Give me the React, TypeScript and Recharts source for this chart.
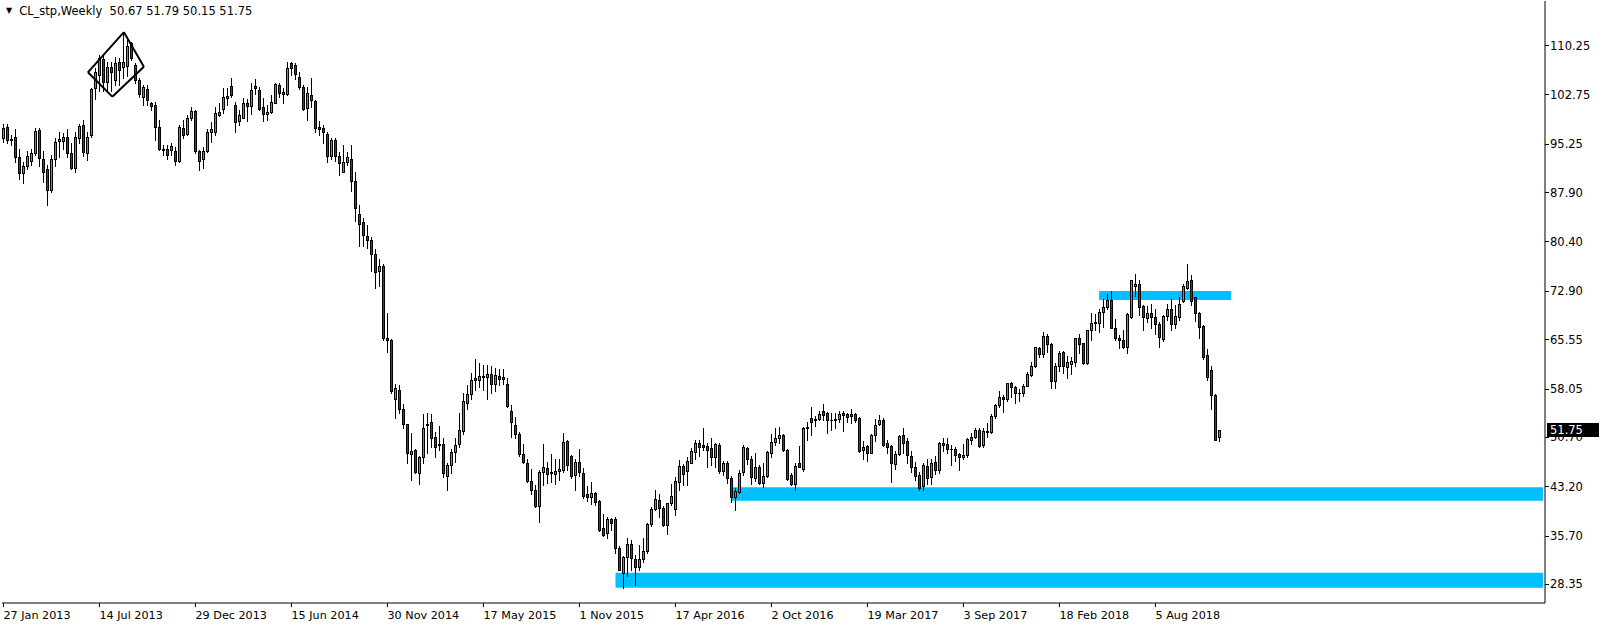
import React from 'react';
import { ComposedChart, Bar, XAxis, YAxis, ReferenceArea, ReferenceLine } from 'recharts';

// ---------- data ----------
const symbolName = 'CL_stp';
const timeframe = 'Weekly';

const dateLabels = ['27 Jan 2013', '14 Jul 2013', '29 Dec 2013', '15 Jun 2014', '30 Nov 2014', '17 May 2015', '1 Nov 2015', '17 Apr 2016', '2 Oct 2016', '19 Mar 2017', '3 Sep 2017', '18 Feb 2018', '5 Aug 2018'];
const labelBars = [0, 24, 48, 72, 96, 120, 144, 168, 192, 216, 240, 264, 288];
const priceTicks = [110.25, 102.75, 95.25, 87.9, 80.4, 72.9, 65.55, 58.05, 50.7, 43.2, 35.7, 28.35];

const opens = [
  96.07, 97.74, 95.95, 96.3, 93.2, 90.75, 91.8, 92.6, 93.8, 97.4,
  93.0, 91.4, 88.2, 92.9, 95.6, 95.7, 96.2, 93.9, 91.6, 96.1,
  98.1, 93.8, 96.6, 103.7, 105.7, 108.1, 104.6, 106.9, 104.9, 107.6,
  106.9, 107.0, 110.5, 107.2, 104.9, 102.4, 103.6, 101.5, 101.1, 97.8,
  94.5, 94.4, 94.3, 94.1, 92.6, 97.6, 96.8, 99.1, 100.2, 94.1,
  92.9, 94.1, 97.0, 97.1, 99.6, 100.6, 102.25, 104.0, 101.2, 98.7,
  99.2, 101.4, 101.0, 104.0, 103.4, 100.8, 99.7, 100.0, 101.5, 104.2,
  103.1, 102.8, 107.5, 107.2, 105.4, 103.8, 100.7, 102.7, 101.7, 97.8,
  97.6, 96.8, 93.4, 95.8, 93.4, 91.0, 92.4, 92.9, 89.6, 84.5,
  83.4, 81.2, 80.6, 78.5, 75.9, 76.7, 65.8, 65.5, 56.5, 57.8,
  55.0, 52.6, 48.1, 48.7, 45.2, 47.7, 52.5, 52.9, 50.7, 49.6,
  49.6, 44.75, 46.4, 48.45, 49.55, 51.6, 55.9, 57.2, 59.4, 59.35,
  59.8, 59.85, 60.25, 58.8, 59.95, 59.75, 58.8, 54.7, 52.5, 51.1,
  48.1, 46.8, 44.0, 42.7, 40.25, 45.3, 45.9, 45.4, 45.0, 45.5,
  45.7, 50.1, 47.8, 44.9, 46.9, 45.2, 42.0, 41.6, 42.2, 40.95,
  36.8, 36.05, 38.3, 38.3, 33.75, 30.05, 32.4, 34.5, 32.2, 30.95,
  32.1, 33.4, 37.45, 39.7, 41.1, 39.85, 37.3, 40.6, 39.7, 43.9,
  46.3, 45.55, 46.8, 48.45, 49.7, 49.45, 49.3, 48.95, 47.7, 49.5,
  45.55, 46.8, 44.4, 41.6, 42.4, 45.4, 48.95, 47.4, 44.4, 46.1,
  43.7, 44.75, 48.2, 49.9, 50.6, 50.95, 48.7, 44.9, 43.6, 46.7,
  45.8, 52.2, 53.5, 53.35, 53.4, 54.7, 54.4, 53.3, 53.35, 53.4,
  54.4, 54.2, 54.2, 54.2, 53.5, 48.7, 49.3, 48.3, 51.0, 52.65,
  53.3, 49.8, 49.3, 46.6, 48.1, 50.95, 50.1, 47.8, 46.2, 44.9,
  43.2, 46.3, 44.55, 46.9, 45.6, 49.8, 49.6, 48.9, 48.8, 48.1,
  47.6, 47.9, 50.3, 50.7, 51.7, 49.4, 51.6, 51.5, 53.9, 55.6,
  56.7, 56.5, 58.9, 58.3, 57.4, 57.3, 58.5, 60.1, 61.5, 64.15,
  63.3, 66.0, 64.8, 59.2, 61.4, 63.6, 61.35, 61.8, 62.1, 65.8,
  64.9, 61.9, 66.9, 68.2, 67.95, 69.7, 70.4, 71.5, 67.3, 65.8,
  65.5, 64.3, 68.9, 73.6, 74.0, 70.6, 68.7, 69.5, 68.95, 67.9,
  65.65, 69.0, 70.2, 67.85, 68.95, 71.4, 73.4, 74.5, 71.9, 69.6,
  67.5, 63.1, 60.85, 57.05, 50.67,
];

const highs = [
  98.2, 98.2, 96.6, 97.5, 94.45, 92.5, 94.1, 94.5, 97.6, 97.6,
  94.1, 92.0, 93.5, 96.1, 97.1, 96.9, 97.5, 95.3, 97.0, 98.3,
  98.9, 97.1, 103.7, 106.7, 108.8, 108.7, 107.7, 107.7, 108.5, 108.3,
  112.2, 111.0, 110.7, 107.5, 105.2, 104.2, 104.2, 101.6, 101.6, 98.8,
  95.0, 95.0, 95.3, 94.8, 98.1, 98.8, 99.6, 100.9, 100.4, 94.3,
  94.8, 97.5, 98.6, 100.9, 101.4, 103.7, 103.7, 105.2, 101.6, 100.4,
  102.2, 102.1, 104.4, 105.1, 103.9, 102.2, 101.1, 102.6, 104.4, 104.4,
  103.7, 107.6, 107.7, 107.5, 106.1, 104.1, 103.8, 105.2, 101.9, 98.7,
  98.1, 97.1, 96.1, 96.1, 94.0, 95.0, 94.0, 95.0, 90.9, 85.9,
  83.9, 82.9, 81.1, 79.3, 77.8, 77.0, 69.6, 65.6, 58.8, 58.6,
  55.7, 52.7, 51.3, 48.9, 47.8, 54.2, 54.3, 54.2, 51.5, 52.3,
  50.6, 46.7, 48.8, 50.5, 54.3, 57.3, 58.6, 60.35, 62.6, 61.9,
  61.6, 61.6, 61.5, 61.1, 61.0, 61.0, 59.6, 55.5, 53.8, 51.5,
  49.6, 47.3, 45.8, 43.4, 45.7, 49.6, 46.9, 48.1, 47.3, 47.4,
  51.3, 50.2, 47.9, 47.4, 48.85, 45.9, 43.2, 43.9, 42.4, 41.1,
  38.95, 38.6, 38.4, 38.6, 34.1, 32.6, 35.3, 35.0, 32.75, 34.3,
  35.3, 37.65, 40.0, 42.6, 42.0, 40.2, 40.7, 43.5, 44.55, 47.2,
  46.6, 47.6, 48.95, 50.3, 50.3, 52.0, 49.7, 50.6, 49.8, 49.7,
  47.1, 47.1, 44.75, 43.0, 45.65, 49.5, 49.1, 47.8, 48.2, 46.4,
  46.8, 48.6, 51.2, 52.1, 52.25, 51.2, 48.8, 45.25, 46.8, 49.3,
  52.15, 53.0, 55.3, 53.9, 54.7, 55.7, 54.5, 54.4, 54.3, 54.7,
  54.7, 54.4, 55.0, 54.4, 53.7, 50.1, 49.5, 51.1, 53.4, 54.0,
  53.5, 50.2, 49.5, 48.6, 51.0, 52.1, 50.5, 48.6, 46.9, 45.4,
  46.8, 47.4, 47.3, 47.8, 49.97, 50.5, 50.5, 49.5, 49.2, 48.3,
  49.6, 50.6, 51.3, 52.1, 52.1, 52.0, 52.8, 54.2, 55.7, 57.7,
  57.0, 58.9, 59.1, 58.5, 58.0, 58.7, 60.5, 62.1, 64.4, 64.4,
  66.7, 66.3, 65.0, 61.9, 63.8, 63.8, 63.0, 62.9, 65.8, 66.3,
  65.0, 67.0, 69.5, 69.4, 70.1, 71.7, 72.4, 72.9, 68.55, 66.2,
  66.9, 69.6, 74.6, 75.4, 74.6, 70.7, 70.6, 70.9, 70.2, 68.2,
  69.2, 70.9, 71.6, 70.7, 72.0, 74.0, 76.95, 75.3, 72.0, 69.7,
  67.7, 64.1, 61.4, 57.2, 51.79,
];

const lows = [
  95.45, 95.4, 95.05, 92.4, 89.9, 89.3, 91.4, 92.0, 93.5, 91.9,
  89.5, 85.9, 87.9, 91.8, 93.3, 94.5, 93.3, 91.4, 91.0, 95.3,
  93.4, 92.8, 96.3, 102.1, 103.2, 103.2, 103.4, 103.3, 104.2, 104.2,
  105.2, 105.6, 107.9, 104.4, 102.4, 101.1, 101.1, 100.4, 95.8, 94.3,
  93.5, 92.9, 93.5, 92.0, 92.4, 96.1, 96.6, 98.85, 93.9, 91.3,
  91.5, 94.0, 95.5, 96.6, 99.4, 99.9, 101.1, 102.4, 97.1, 98.1,
  99.1, 98.7, 99.7, 102.8, 100.4, 98.7, 98.8, 99.9, 101.4, 102.4,
  101.5, 102.7, 105.7, 105.1, 103.6, 100.4, 98.85, 100.9, 97.1, 96.5,
  95.3, 92.5, 93.0, 92.6, 90.5, 90.9, 92.0, 88.0, 83.5, 79.75,
  79.75, 79.35, 75.9, 73.3, 73.6, 65.5, 63.6, 57.3, 53.5, 54.3,
  52.0, 46.8, 44.1, 45.25, 43.6, 46.7, 48.2, 49.1, 47.7, 48.7,
  44.65, 42.6, 45.25, 46.9, 49.2, 51.2, 54.9, 56.4, 57.8, 58.3,
  57.8, 56.4, 57.3, 57.7, 58.6, 58.7, 55.3, 50.7, 50.5, 47.8,
  46.7, 43.9, 42.0, 40.0, 37.8, 43.4, 43.7, 43.9, 43.6, 44.1,
  45.4, 45.7, 44.4, 42.7, 44.75, 41.4, 41.0, 40.5, 40.3, 36.45,
  35.65, 35.3, 36.6, 33.0, 30.4, 27.7, 29.55, 30.4, 28.2, 30.45,
  31.7, 33.1, 37.15, 39.6, 38.6, 37.15, 35.9, 40.35, 38.8, 42.6,
  43.4, 43.4, 46.7, 47.3, 47.8, 48.7, 46.2, 46.4, 46.2, 45.25,
  44.9, 43.7, 40.85, 39.6, 42.1, 44.9, 46.6, 43.6, 44.0, 43.5,
  43.1, 44.55, 47.7, 49.5, 49.7, 48.6, 44.15, 43.4, 42.7, 46.1,
  45.55, 50.3, 51.0, 52.3, 53.2, 53.3, 51.3, 51.7, 52.1, 53.0,
  51.6, 53.0, 52.8, 53.0, 48.45, 47.3, 47.1, 48.2, 50.1, 52.5,
  49.3, 48.3, 43.9, 45.8, 47.9, 48.2, 46.8, 45.3, 44.1, 42.6,
  42.6, 43.6, 43.5, 45.06, 45.26, 48.5, 48.2, 46.4, 47.1, 45.7,
  47.3, 47.7, 49.6, 50.5, 49.2, 49.2, 50.7, 51.3, 53.6, 55.3,
  54.5, 56.1, 56.8, 55.8, 56.1, 56.9, 58.4, 60.0, 61.3, 62.8,
  62.9, 63.6, 58.1, 58.2, 60.75, 60.45, 59.7, 60.25, 61.4, 63.5,
  61.8, 61.8, 65.5, 66.9, 66.7, 67.4, 70.1, 67.2, 65.4, 64.15,
  64.15, 63.5, 68.7, 72.1, 69.2, 67.0, 68.2, 67.3, 66.3, 64.4,
  65.3, 68.45, 67.0, 67.3, 68.45, 71.2, 73.1, 70.7, 68.35, 65.7,
  62.5, 59.4, 54.9, 50.2, 50.15,
];

const closes = [
  97.59, 95.8, 95.85, 93.3, 90.85, 91.85, 93.4, 93.8, 97.2, 93.1,
  90.9, 88.2, 92.9, 95.5, 95.9, 96.2, 93.8, 91.6, 96.2, 97.9,
  94.0, 96.3, 103.5, 106.1, 108.3, 104.6, 106.9, 106.1, 107.5, 106.4,
  107.6, 110.1, 108.2, 104.9, 102.75, 103.8, 101.9, 101.0, 97.8, 94.4,
  94.3, 93.6, 94.95, 92.6, 97.8, 96.5, 99.2, 100.2, 94.2, 92.6,
  94.1, 97.0, 97.5, 99.9, 100.0, 102.35, 102.55, 102.65, 98.6, 99.6,
  101.5, 101.0, 103.4, 103.7, 100.6, 99.7, 100.0, 101.6, 104.3, 102.9,
  102.8, 106.7, 106.7, 105.8, 103.8, 100.6, 102.9, 101.9, 97.6, 97.5,
  97.1, 93.4, 95.8, 93.4, 92.3, 92.4, 93.3, 89.6, 85.5, 83.0,
  81.4, 80.6, 78.5, 75.8, 76.7, 65.8, 65.5, 57.7, 58.1, 54.9,
  52.7, 48.2, 48.6, 45.4, 47.6, 52.0, 52.7, 50.6, 49.2, 49.5,
  45.2, 46.4, 48.35, 49.45, 51.75, 56.2, 57.2, 59.3, 59.6, 59.95,
  59.95, 60.25, 58.8, 60.1, 59.45, 59.45, 55.4, 53.0, 51.1, 48.1,
  46.9, 44.0, 42.6, 40.2, 45.4, 46.1, 45.05, 45.2, 45.5, 45.8,
  49.9, 46.4, 44.75, 46.9, 45.3, 41.7, 41.6, 42.1, 40.85, 36.55,
  35.8, 38.3, 37.55, 33.75, 30.45, 32.4, 34.4, 32.25, 30.95, 32.1,
  33.4, 37.45, 39.7, 41.2, 39.85, 37.3, 40.6, 41.7, 44.0, 46.3,
  45.05, 47.0, 48.55, 49.7, 49.1, 49.2, 48.7, 47.7, 49.6, 45.55,
  46.8, 44.4, 41.6, 42.5, 45.25, 49.1, 47.4, 44.55, 46.1, 43.7,
  44.75, 48.45, 49.9, 50.6, 51.0, 48.7, 44.25, 43.5, 46.3, 46.2,
  52.0, 52.1, 53.0, 53.2, 54.25, 54.0, 53.2, 53.2, 53.2, 54.2,
  54.0, 53.7, 53.9, 53.3, 48.6, 49.15, 48.2, 51.0, 52.5, 53.3,
  49.5, 49.1, 46.7, 48.1, 50.8, 49.8, 47.9, 46.1, 44.75, 42.9,
  46.4, 44.4, 46.8, 45.6, 49.7, 49.5, 48.8, 48.8, 47.9, 47.6,
  47.9, 50.4, 50.7, 51.7, 49.3, 51.6, 51.5, 53.9, 55.6, 56.7,
  56.5, 58.9, 58.3, 57.4, 57.3, 58.5, 60.2, 61.5, 64.3, 63.3,
  66.0, 64.8, 59.2, 61.4, 63.4, 61.4, 62.1, 62.3, 65.7, 64.8,
  61.9, 66.9, 67.95, 67.95, 69.7, 70.5, 71.5, 67.3, 65.7, 65.5,
  64.3, 69.4, 74.5, 74.0, 70.5, 68.9, 69.5, 68.9, 67.85, 65.9,
  69.05, 70.2, 67.85, 69.05, 70.95, 73.6, 74.4, 71.4, 69.5, 67.4,
  62.8, 59.8, 57.05, 50.3, 51.75,
];

// support / resistance zones (bar index range and price range)
const zoneStartBar = [153, 182, 273.9];
const zoneEndBar = [384.9, 384.9, 306.9];
const zoneLow = [27.78, 41.0, 71.5];
const zoneHigh = [30.06, 43.04, 72.87];

// hand drawn diamond (bar index, price) vertices
const diamondBar = [21.1, 30.1, 35.1, 27.2];
const diamondPrice = [106.1, 112.2, 106.95, 102.4];

// ---------- styling ----------
const W = 1604;
const H = 627;
const AXIS_W = 59;
const FONT = '"DejaVu Sans", Tahoma, sans-serif';
const BULL = '#00e000';
const BEAR = '#e00000';
const ZONE = '#00bfff';
const X_DOMAIN: [number, number] = [-0.375, 385.375];
const Y_DOMAIN: [number, number] = [25.461, 116.936];

type Row = { i: number; o: number; h: number; l: number; c: number };
const rows: Row[] = opens.map((o, i) => ({ i, o, h: highs[i], l: lows[i], c: closes[i] }));
const last = rows[rows.length - 1];
const lastClose = last.c;

function Candle(props: any) {
  const { x, y, width, height, payload } = props;
  if (x == null || y == null || payload == null) return null;
  const { o, h, l, c } = payload as Row;
  const center = x + width / 2;
  const px = Math.floor(center + 0.01);
  const top = Math.min(y, y + height);
  const hgt = Math.abs(height);
  const span = h - l;
  const toY = (v: number) => (span > 0 ? top + ((h - v) / span) * hgt : top);
  const yH = Math.round(toY(h));
  const yL = Math.round(toY(l));
  const bTop = Math.round(toY(Math.max(o, c)));
  const bBot = Math.round(toY(Math.min(o, c)));
  const fill = c > o ? BULL : c < o ? BEAR : '#000';
  return (
    <g>
      <line x1={px + 0.5} x2={px + 0.5} y1={yH} y2={yL + 1} stroke="#000" strokeWidth={1} />
      {bBot - bTop >= 1 ? (
        <rect x={px - 0.5} y={bTop + 0.5} width={2} height={bBot - bTop} fill={fill} stroke="#000" strokeWidth={1} />
      ) : (
        <rect x={px - 1} y={bTop} width={3} height={1} fill="#000" />
      )}
    </g>
  );
}

function XTick(props: any) {
  const { x, y, payload } = props;
  const k = labelBars.indexOf(payload.value);
  const px = Math.floor(x + 0.01) + 0.5;
  return (
    <g>
      <line x1={px} x2={px} y1={y} y2={y + 4} stroke="#000" strokeWidth={1} />
      <text x={px} y={y + 16} fontFamily={FONT} fontSize={11.2} fill="#000" textAnchor="start">
        {k >= 0 ? dateLabels[k] : ''}
      </text>
    </g>
  );
}

function YTick(props: any) {
  const { x, y, payload } = props;
  const v = payload.value as number;
  const py = Math.round(y) + 0.5;
  if (v === lastClose) {
    return (
      <g>
        <rect x={x + 2} y={Math.round(y) - 7} width={52} height={14} fill="#000" />
        <text x={x + 5} y={y + 4.5} fontFamily={FONT} fontSize={11.5} fill="#fff" textAnchor="start">
          {v.toFixed(2)}
        </text>
      </g>
    );
  }
  return (
    <g>
      <line x1={x} x2={x + 4} y1={py} y2={py} stroke="#000" strokeWidth={1} />
      <text x={x + 5} y={y + 4.5} fontFamily={FONT} fontSize={11.5} fill="#000" textAnchor="start">
        {v.toFixed(2)}
      </text>
    </g>
  );
}

export default function App() {
  const title = `${symbolName},${timeframe}  ${last.o.toFixed(2)} ${last.h.toFixed(2)} ${last.l.toFixed(2)} ${last.c.toFixed(2)}`;
  return (
    <div style={{ position: 'absolute', left: 0, top: 0, width: W, height: H, background: '#fff', overflow: 'hidden' }}>
      <ComposedChart width={W} height={H} data={rows} margin={{ top: 1, right: 0, bottom: 0, left: 2 }}>
        <XAxis
          type="number"
          dataKey="i"
          domain={X_DOMAIN}
          allowDataOverflow
          ticks={labelBars}
          interval={0}
          height={24}
          tickSize={0}
          tickMargin={0}
          tickLine={false}
          axisLine={{ stroke: '#000' }}
          tick={<XTick />}
        />
        <XAxis
          xAxisId="top"
          orientation="top"
          type="number"
          domain={X_DOMAIN}
          allowDataOverflow
          height={0}
          tick={false}
          tickLine={false}
          axisLine={{ stroke: '#000' }}
        />
        <YAxis
          orientation="right"
          type="number"
          domain={Y_DOMAIN}
          allowDataOverflow
          ticks={[...priceTicks, lastClose]}
          interval={0}
          width={AXIS_W}
          tickSize={0}
          tickMargin={0}
          tickLine={false}
          axisLine={{ stroke: '#000' }}
          tick={<YTick />}
        />
        <YAxis
          yAxisId="left"
          orientation="left"
          type="number"
          domain={Y_DOMAIN}
          allowDataOverflow
          width={0}
          tick={false}
          tickLine={false}
          axisLine={{ stroke: '#000' }}
        />
        {zoneStartBar.map((s, k) => (
          <ReferenceArea
            key={`z${k}`}
            x1={s}
            x2={zoneEndBar[k]}
            y1={zoneLow[k]}
            y2={zoneHigh[k]}
            fill={ZONE}
            fillOpacity={1}
            stroke="none"
            ifOverflow="visible"
          />
        ))}
        <Bar
          dataKey={(d: Row) => [d.l, d.h]}
          barSize={3}
          isAnimationActive={false}
          shape={(p: any) => <Candle {...p} />}
        />
        {diamondBar.map((b, k) => {
          const n = (k + 1) % diamondBar.length;
          return (
            <ReferenceLine
              key={`d${k}`}
              segment={[
                { x: b, y: diamondPrice[k] },
                { x: diamondBar[n], y: diamondPrice[n] },
              ]}
              stroke="#000"
              strokeWidth={2}
              ifOverflow="visible"
            />
          );
        })}
      </ComposedChart>
      <div
        style={{
          position: 'absolute',
          left: 6,
          top: 4,
          fontFamily: FONT,
          fontSize: 11.5,
          color: '#000',
          whiteSpace: 'pre',
          display: 'flex',
          alignItems: 'center',
          lineHeight: '14px',
        }}
      >
        <span style={{ fontSize: 8, marginRight: 7 }}>▼</span>
        <span>{title}</span>
      </div>
    </div>
  );
}
